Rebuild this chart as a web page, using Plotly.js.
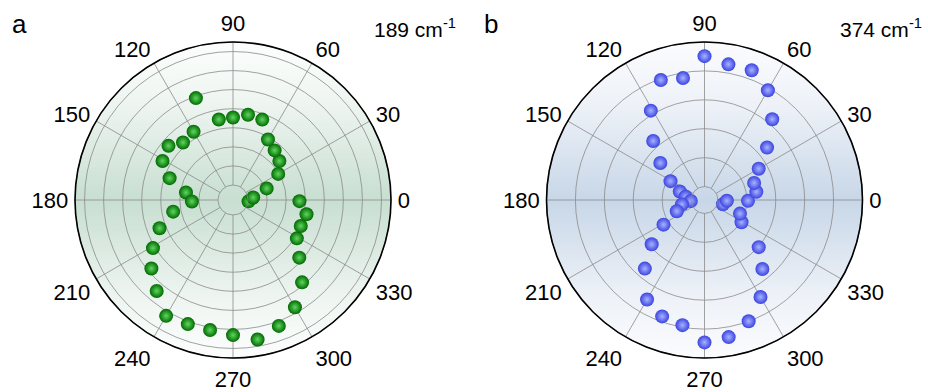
<!DOCTYPE html>
<html>
<head>
<meta charset="utf-8">
<script src="https://cdn.plot.ly/plotly-3.0.1.min.js"></script>
<style>
  html, body { margin: 0; padding: 0; background: #fff; }
  #chart { width: 928px; height: 392px; }
</style>
</head>
<body>
<div id="chart"></div>
<script>
// ---------- data ----------
// angular tick labels
const angleTicks = [0, 30, 60, 90, 120, 150, 180, 210, 240, 270, 300, 330];
const angleTickText = ["0", "30", "60", "90", "120", "150", "180", "210", "240", "270", "300", "330"];

// panel a : 189 cm-1 (green)
const thetaA = [355, 7, 19, 30, 40, 50, 60, 70, 80, 90, 100, 110, 120, 131, 140, 151, 161, 171, 182,
                191, 201, 211, 220, 230, 240, 250, 260, 270, 280, 290, 300, 310, 319, 329, 339, 349, 359];
const rA = [0.03, 0.28, 1.08, 1.95, 2.39, 2.61, 2.88, 3.70, 3.75, 3.54, 3.50, 4.90, 3.35, 3.21, 3.63, 3.44, 2.73, 1.71, 1.37,
            2.41, 3.34, 4.11, 4.80, 5.44, 6.23, 6.14, 6.14, 6.30, 6.64, 6.24, 5.71, 4.85, 3.82, 3.12, 3.02, 3.14, 2.70];

// panel b : 374 cm-1 (blue)
const thetaB = [359, 9, 19, 30, 40, 50, 60, 70, 80, 90, 100, 110, 121, 131, 140, 151, 161, 170, 184,
                191, 202, 211, 220, 229, 240, 250, 260, 270, 280, 290, 300, 310, 319, 329, 339, 347, 358];
const rB = [1.04, 1.35, 1.35, 1.70, 2.36, 3.18, 3.92, 4.31, 4.30, 4.51, 3.82, 3.95, 3.14, 2.24, 1.53, 0.88, 0.44, 0.20, 0.01,
            0.33, 0.57, 1.19, 1.92, 2.68, 3.51, 3.82, 3.93, 4.46, 4.35, 4.00, 3.41, 2.65, 2.02, 1.03, 0.85, 0.19, 0.31];

const panelLabels = ["a", "b"];
const waveLabels = ["189 cm<sup>-1</sup>", "374 cm<sup>-1</sup>"];

// ---------- layout geometry ----------
const W = 928, H = 392;
const R = 158;
const centers = [[233, 200], [704.5, 200]];

function gradientImage(edge, soft, mid) {
  const c = document.createElement('canvas');
  const s = 2 * R * 2;
  c.width = s; c.height = s;
  const ctx = c.getContext('2d');
  ctx.beginPath();
  ctx.arc(s / 2, s / 2, s / 2, 0, Math.PI * 2);
  ctx.clip();
  const g = ctx.createLinearGradient(0, 0, 0, s);
  g.addColorStop(0, edge);
  g.addColorStop(0.2, soft);
  g.addColorStop(0.5, mid);
  g.addColorStop(0.8, soft);
  g.addColorStop(1, edge);
  ctx.fillStyle = g;
  ctx.fillRect(0, 0, s, s);
  return c.toDataURL('image/png');
}

function box(cx, cy) {
  return { x0: (cx - R) / W, x1: (cx + R) / W, y0: (H - cy - R) / H, y1: (H - cy + R) / H };
}

const font = "Liberation Sans, Arial, sans-serif";

function polarCfg(cx, cy, rmax, hole) {
  const b = box(cx, cy);
  return {
    domain: { x: [b.x0, b.x1], y: [b.y0, b.y1] },
    hole: hole,
    bgcolor: 'rgba(0,0,0,0)',
    radialaxis: {
      range: [0, rmax],
      tick0: 0, dtick: 1,
      showticklabels: false,
      ticks: '',
      showline: false,
      gridcolor: '#8a8a8a',
      gridwidth: 0.8
    },
    angularaxis: {
      rotation: 0,
      direction: 'counterclockwise',
      tickmode: 'array',
      tickvals: angleTicks,
      ticktext: angleTickText,
      ticks: 'outside',
      ticklen: 2,
      tickcolor: 'rgba(0,0,0,0)',
      showline: true,
      linecolor: '#8a8a8a',
      linewidth: 0.8,
      gridcolor: '#8a8a8a',
      gridwidth: 0.8,
      tickfont: { family: font, size: 22, color: '#000' }
    }
  };
}

const traces = [
  {
    type: 'scatterpolar', subplot: 'polar', mode: 'markers',
    r: rA, theta: thetaA,
    marker: { size: 14, color: '#006a00', line: { width: 0 },
              gradient: { type: 'radial', color: '#5fd65f' } },
    hoverinfo: 'skip'
  },
  {
    type: 'scatterpolar', subplot: 'polar2', mode: 'markers',
    r: rB, theta: thetaB,
    marker: { size: 14, color: '#3a44e0', line: { width: 0 },
              gradient: { type: 'radial', color: '#a9b2ff' } },
    hoverinfo: 'skip'
  }
];

const bA = box(centers[0][0], centers[0][1]);
const bB = box(centers[1][0], centers[1][1]);

const layout = {
  width: W, height: H,
  margin: { l: 0, r: 0, t: 0, b: 0 },
  paper_bgcolor: '#fff',
  showlegend: false,
  polar: polarCfg(centers[0][0], centers[0][1], 7.5, 0.095),
  polar2: polarCfg(centers[1][0], centers[1][1], 5, 0.085),
  images: [
    {
      source: gradientImage('#fcfefd', '#eef5f1', '#c8dfd1'),
      xref: 'paper', yref: 'paper',
      x: bA.x0, y: bA.y1, sizex: bA.x1 - bA.x0, sizey: bA.y1 - bA.y0,
      xanchor: 'left', yanchor: 'top', sizing: 'stretch', layer: 'below'
    },
    {
      source: gradientImage('#fbfcfe', '#eef2f8', '#c8d7e8'),
      xref: 'paper', yref: 'paper',
      x: bB.x0, y: bB.y1, sizex: bB.x1 - bB.x0, sizey: bB.y1 - bB.y0,
      xanchor: 'left', yanchor: 'top', sizing: 'stretch', layer: 'below'
    }
  ],
  shapes: [
    { type: 'circle', xref: 'paper', yref: 'paper', x0: bA.x0, x1: bA.x1, y0: bA.y0, y1: bA.y1,
      line: { color: '#000', width: 1.6 }, fillcolor: 'rgba(0,0,0,0)', layer: 'above' },
    { type: 'circle', xref: 'paper', yref: 'paper', x0: bB.x0, x1: bB.x1, y0: bB.y0, y1: bB.y1,
      line: { color: '#000', width: 1.6 }, fillcolor: 'rgba(0,0,0,0)', layer: 'above' }
  ],
  annotations: [
    { text: panelLabels[0], xref: 'paper', yref: 'paper', x: 10 / W, y: 1 - 24 / H,
      xanchor: 'left', yanchor: 'middle', showarrow: false, font: { family: font, size: 26, color: '#000' } },
    { text: panelLabels[1], xref: 'paper', yref: 'paper', x: 482 / W, y: 1 - 24 / H,
      xanchor: 'left', yanchor: 'middle', showarrow: false, font: { family: font, size: 26, color: '#000' } },
    { text: waveLabels[0], xref: 'paper', yref: 'paper', x: 372 / W, y: 1 - 28 / H,
      xanchor: 'left', yanchor: 'middle', showarrow: false, font: { family: font, size: 21, color: '#000' } },
    { text: waveLabels[1], xref: 'paper', yref: 'paper', x: 838 / W, y: 1 - 28 / H,
      xanchor: 'left', yanchor: 'middle', showarrow: false, font: { family: font, size: 21, color: '#000' } }
  ]
};

Plotly.newPlot('chart', traces, layout, { staticPlot: true, displayModeBar: false });
</script>
</body>
</html>
